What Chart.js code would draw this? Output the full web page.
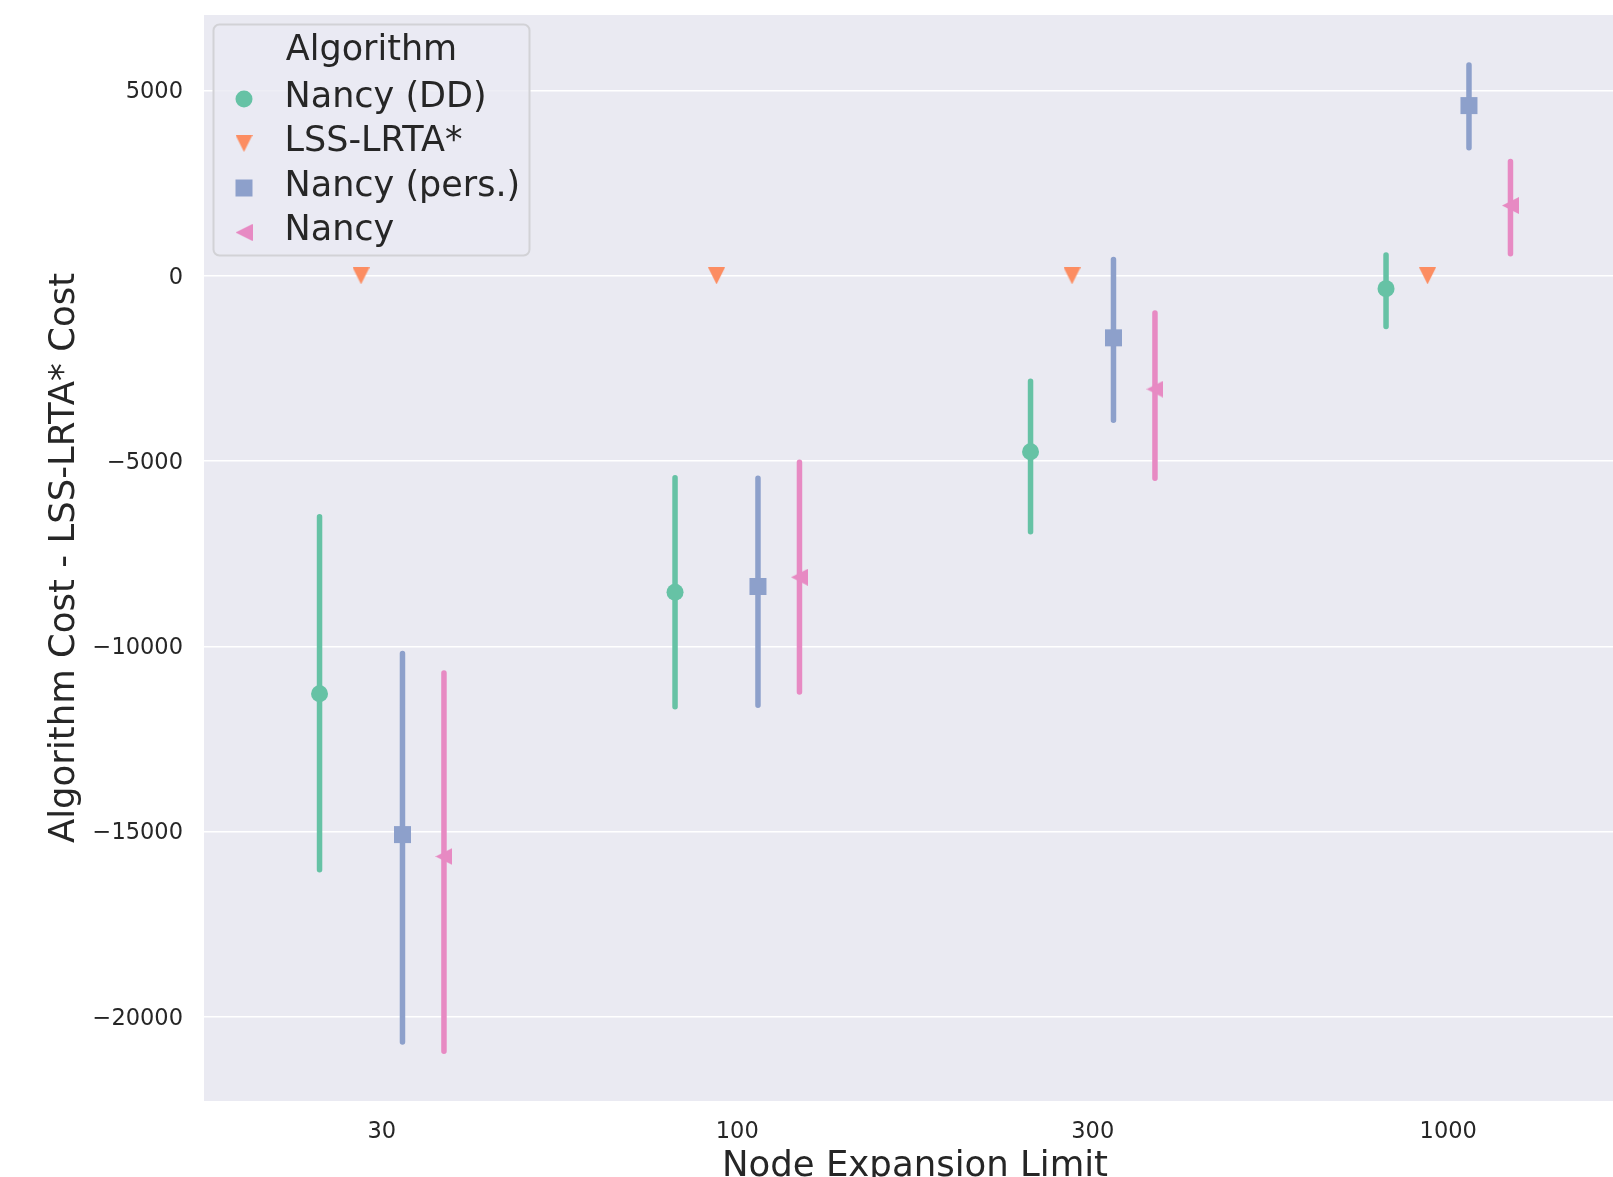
<!DOCTYPE html>
<html>
<head>
<meta charset="utf-8">
<title>Algorithm Cost - LSS-LRTA* Cost</title>
<script src="https://cdn.jsdelivr.net/npm/chart.js@4.4.1/dist/chart.umd.min.js"></script>
<style>
    html, body {
        margin: 0;
        padding: 0;
        overflow: hidden;
        background: #ffffff;
    }

    #costChart {
        display: block;
    }
</style>
</head>
<body>
<!-- wider than the window on purpose: the reference is cut off on the right -->
<canvas id="costChart" width="1626" height="1200"></canvas>
<script>
// data
const CATEGORIES = ["30", "100", "300", "1000"];
const SERIES_LABELS = ["Nancy (DD)", "LSS-LRTA*", "Nancy (pers.)", "Nancy"];

const NANCY_DD_MEAN = [-11280, -8540, -4748, -345];
const NANCY_DD_LOW = [-16030, -11630, -6905, -1365];
const NANCY_DD_HIGH = [-6500, -5450, -2845, 565];

const LSS_LRTA_MEAN = [0, 0, 0, 0];

const NANCY_PERS_MEAN = [-15080, -8384, -1673, 4595];
const NANCY_PERS_LOW = [-20680, -11590, -3895, 3455];
const NANCY_PERS_HIGH = [-10190, -5465, 440, 5690];

const NANCY_MEAN = [-15670, -8133, -3058, 1898];
const NANCY_LOW = [-20930, -11230, -5460, 595];
const NANCY_HIGH = [-10720, -5030, -1000, 3085];

const Y_TICKS = [-20000, -15000, -10000, -5000, 0, 5000];
const Y_MIN = -22270;
const Y_MAX = 7040;

const X_MIN = -0.5;
const X_MAX = 3.5;

// look
const FONT_FAMILY = "'DejaVu Sans', 'Liberation Sans', sans-serif";
const TEXT_COLOR = "#262626";
const PLOT_BACKGROUND = "#eaeaf2";
const DODGE_OFFSETS = [-0.175, -0.0583, 0.0583, 0.175];
const SERIES_COLORS = ["#66c2a5", "#fc8d62", "#8da0cb", "#e78ac3"];
const MARKER_SIZE = 17;

function makeTriangleMarker(color, direction) {

    const canvas = document.createElement("canvas");
    const size = MARKER_SIZE;

    canvas.width = size;
    canvas.height = size;

    const ctx = canvas.getContext("2d");

    ctx.fillStyle = color;
    ctx.beginPath();

    if (direction === "down") {
        ctx.moveTo(0, 0);
        ctx.lineTo(size, 0);
        ctx.lineTo(size / 2, size);
    } else {
        ctx.moveTo(0, size / 2);
        ctx.lineTo(size, 0);
        ctx.lineTo(size, size);
    }

    ctx.closePath();
    ctx.fill();

    return canvas;
}

const SERIES_MARKERS = [
    { pointStyle: "circle", radius: MARKER_SIZE / 2 },
    { pointStyle: makeTriangleMarker(SERIES_COLORS[1], "down"), radius: MARKER_SIZE / 2 },
    { pointStyle: "rect", radius: MARKER_SIZE / Math.SQRT2 },
    { pointStyle: makeTriangleMarker(SERIES_COLORS[3], "left"), radius: MARKER_SIZE / 2 }
];

const SERIES_MEANS = [NANCY_DD_MEAN, LSS_LRTA_MEAN, NANCY_PERS_MEAN, NANCY_MEAN];
const SERIES_LOWS = [NANCY_DD_LOW, null, NANCY_PERS_LOW, NANCY_LOW];
const SERIES_HIGHS = [NANCY_DD_HIGH, null, NANCY_PERS_HIGH, NANCY_HIGH];

function formatTick(value) {

    if (value < 0) {
        return "\u2212" + Math.abs(value);
    }

    return String(value);
}

function buildMarkerDataset(seriesIndex) {

    const offset = DODGE_OFFSETS[seriesIndex];
    const marker = SERIES_MARKERS[seriesIndex];

    return {
        label: SERIES_LABELS[seriesIndex],
        data: SERIES_MEANS[seriesIndex].map((value, index) => ({ x: index + offset, y: value })),
        showLine: false,
        pointStyle: marker.pointStyle,
        pointRadius: marker.radius,
        pointBorderWidth: 0,
        pointBackgroundColor: SERIES_COLORS[seriesIndex],
        pointBorderColor: SERIES_COLORS[seriesIndex],
        order: 1
    };
}

function buildErrorBarDataset(seriesIndex) {

    const offset = DODGE_OFFSETS[seriesIndex];
    const lows = SERIES_LOWS[seriesIndex];
    const highs = SERIES_HIGHS[seriesIndex];

    const data = CATEGORIES.flatMap((category, index) => [
        { x: index + offset, y: lows[index] },
        { x: index + offset, y: highs[index] },
        { x: index + offset, y: null }
    ]);

    return {
        label: SERIES_LABELS[seriesIndex] + " CI",
        data,
        showLine: true,
        spanGaps: false,
        fill: false,
        borderColor: SERIES_COLORS[seriesIndex],
        borderWidth: 5.5,
        borderCapStyle: "round",
        pointRadius: 0,
        tension: 0,
        order: 2
    };
}

// Chart.js keeps room for half a tick label at the scale ends; the reference does not
function dropScalePadding(scale) {

    scale.paddingTop = 0;
    scale.paddingBottom = 0;
    scale.paddingLeft = 0;
    scale.paddingRight = 0;
}

const plotBackgroundPlugin = {
    id: "plotBackground",
    beforeDraw(chart) {

        const { ctx, chartArea } = chart;

        ctx.save();
        ctx.fillStyle = "#ffffff";
        ctx.fillRect(0, 0, chart.width, chart.height);
        ctx.fillStyle = PLOT_BACKGROUND;
        ctx.fillRect(chartArea.left, chartArea.top, chartArea.right - chartArea.left, chartArea.bottom - chartArea.top);
        ctx.restore();
    }
};

function drawLegendMarker(ctx, seriesIndex, x, y) {

    const marker = SERIES_MARKERS[seriesIndex];

    ctx.fillStyle = SERIES_COLORS[seriesIndex];

    if (marker.pointStyle === "circle") {
        ctx.beginPath();
        ctx.arc(x, y, marker.radius, 0, Math.PI * 2);
        ctx.fill();
    } else if (marker.pointStyle === "rect") {
        ctx.fillRect(x - MARKER_SIZE / 2, y - MARKER_SIZE / 2, MARKER_SIZE, MARKER_SIZE);
    } else {
        ctx.drawImage(marker.pointStyle, x - MARKER_SIZE / 2, y - MARKER_SIZE / 2);
    }
}

// legend box in the upper left of the plot, like the seaborn one
const boxedLegendPlugin = {
    id: "boxedLegend",
    afterDraw(chart) {

        const { ctx, chartArea } = chart;
        const left = chartArea.left + 9.5;
        const top = chartArea.top + 9.5;
        const width = 316;
        const height = 231;

        ctx.save();

        ctx.beginPath();
        ctx.roundRect(left, top, width, height, 6);
        ctx.fillStyle = "rgba(234, 234, 242, 0.8)";
        ctx.fill();
        ctx.lineWidth = 2;
        ctx.strokeStyle = "#d2d2d6";
        ctx.stroke();

        ctx.font = "35px " + FONT_FAMILY;
        ctx.fillStyle = TEXT_COLOR;
        ctx.textBaseline = "alphabetic";
        ctx.textAlign = "center";
        ctx.fillText("Algorithm", left + width / 2, top + 35.5);

        ctx.textAlign = "left";

        SERIES_LABELS.forEach((label, index) => {

            const baseline = top + 82 + index * 44.5;

            drawLegendMarker(ctx, index, left + 30.5, baseline - 7.5);
            ctx.fillStyle = TEXT_COLOR;
            ctx.fillText(label, left + 71, baseline);
        });

        ctx.restore();
    }
};

const datasets = [
    ...SERIES_LABELS.map((label, index) => buildMarkerDataset(index)),
    ...SERIES_LABELS
        .map((label, index) => index)
        .filter((index) => SERIES_LOWS[index] !== null)
        .map((index) => buildErrorBarDataset(index))
];

new Chart(document.getElementById("costChart").getContext("2d"), {
    type: "line",
    data: {
        datasets
    },
    plugins: [plotBackgroundPlugin, boxedLegendPlugin],
    options: {
        responsive: false,
        animation: false,
        events: [],
        layout: {
            autoPadding: false,
            padding: { top: 15, left: 0, right: 0, bottom: 0 }
        },
        plugins: {
            legend: {
                display: false
            },
            tooltip: {
                enabled: false
            }
        },
        scales: {
            x: {
                type: "linear",
                min: X_MIN,
                max: X_MAX,
                afterBuildTicks(scale) {

                    scale.ticks = CATEGORIES.map((category, index) => ({ value: index }));
                },
                afterFit(scale) {

                    scale.height = 99;
                    dropScalePadding(scale);
                },
                grid: {
                    display: false,
                    drawTicks: false
                },
                border: {
                    display: false
                },
                ticks: {
                    autoSkip: false,
                    maxRotation: 0,
                    padding: 18,
                    color: TEXT_COLOR,
                    font: { family: FONT_FAMILY, size: 22.5 },
                    callback: (value) => CATEGORIES[value] ?? ""
                },
                title: {
                    display: true,
                    text: "Node Expansion Limit",
                    color: TEXT_COLOR,
                    font: { family: FONT_FAMILY, size: 35.5 },
                    padding: { top: 0, bottom: 12 }
                }
            },
            y: {
                type: "linear",
                min: Y_MIN,
                max: Y_MAX,
                afterBuildTicks(scale) {

                    scale.ticks = Y_TICKS.map((value) => ({ value }));
                },
                afterFit(scale) {

                    scale.width = 204;
                    dropScalePadding(scale);
                },
                grid: {
                    color: "#ffffff",
                    lineWidth: 1.6,
                    drawTicks: false
                },
                border: {
                    display: false
                },
                ticks: {
                    autoSkip: false,
                    padding: 21,
                    labelOffset: 2,
                    color: TEXT_COLOR,
                    font: { family: FONT_FAMILY, size: 22.5 },
                    callback: (value) => formatTick(value)
                },
                title: {
                    display: true,
                    text: "Algorithm Cost - LSS-LRTA* Cost",
                    color: TEXT_COLOR,
                    font: { family: FONT_FAMILY, size: 35.5 },
                    padding: { top: 43, bottom: 0 }
                }
            }
        }
    }
});
</script>
</body>
</html>
